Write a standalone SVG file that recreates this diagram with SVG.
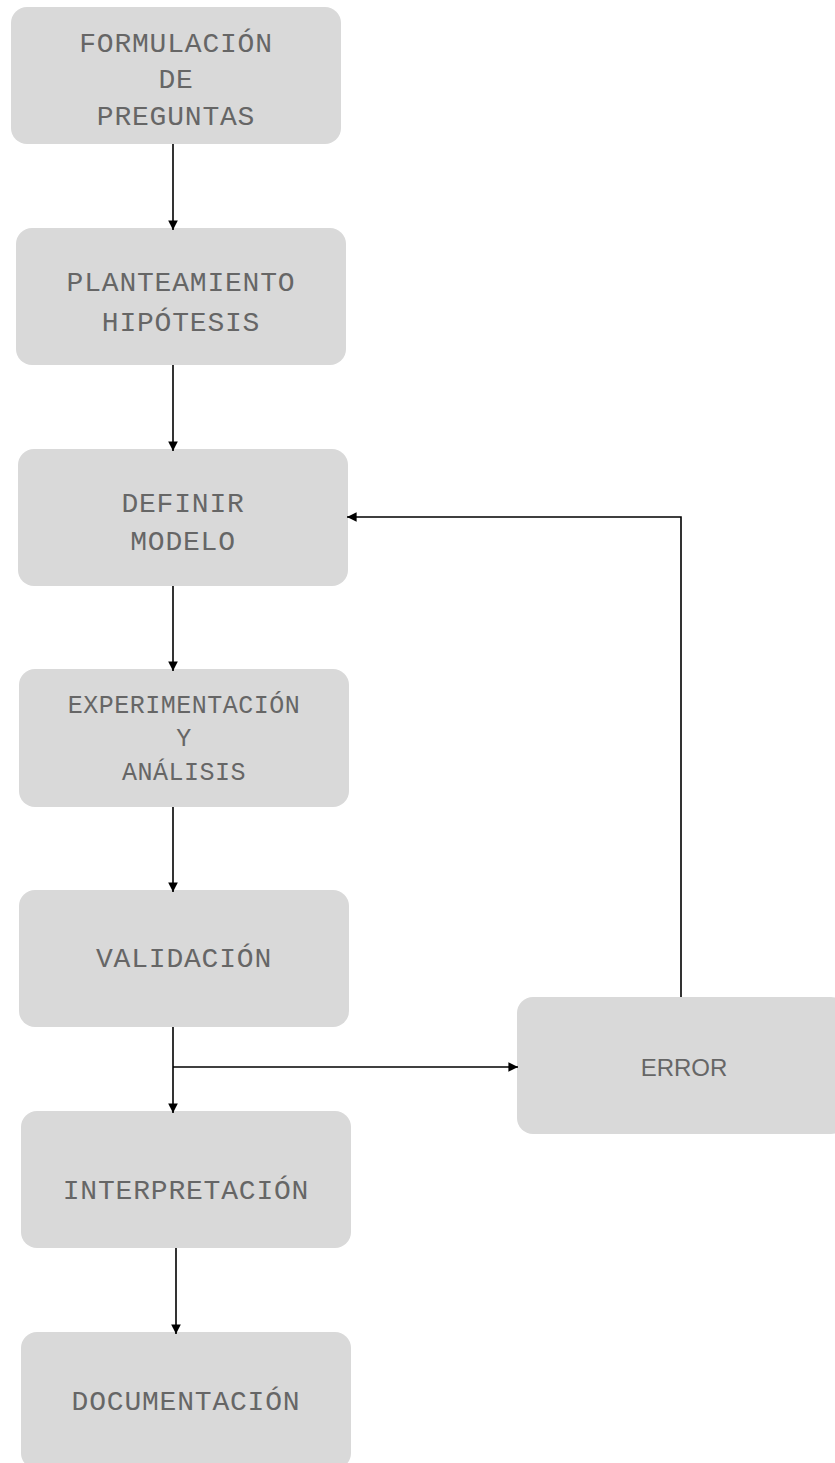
<svg xmlns="http://www.w3.org/2000/svg" width="835" height="1463" viewBox="0 0 835 1463">
  <style>
    .box { fill: #d9d9d9; }
    .lbl { font-family: "Liberation Mono", "DejaVu Sans Mono", monospace; font-size: 28px; letter-spacing: 0.8px; fill: #666666; text-anchor: middle; }
    .sm { font-size: 25px; letter-spacing: 0.5px; }
    .sans { font-family: "Liberation Sans", Arial, sans-serif; font-size: 24px; fill: #666666; text-anchor: middle; }
    .wire { fill: none; stroke: #000; stroke-width: 1.6; }
  </style>
  <defs>
    <marker id="arrow" viewBox="0 0 10 10" refX="10" refY="5" markerWidth="6" markerHeight="6" orient="auto" markerUnits="strokeWidth">
      <path d="M0,0 L10,5 L0,10 Z" fill="#000"/>
    </marker>
  </defs>

  <rect width="835" height="1463" fill="#fff"/>

  <g id="node-formulacion">
    <rect class="box" x="11" y="7" width="330" height="137" rx="16"/>
    <text class="lbl" x="176" y="52">FORMULACIÓN</text>
    <text class="lbl" x="176" y="88">DE</text>
    <text class="lbl" x="176" y="125">PREGUNTAS</text>
  </g>

  <g id="node-planteamiento">
    <rect class="box" x="16" y="228" width="330" height="137" rx="16"/>
    <text class="lbl" x="181" y="291">PLANTEAMIENTO</text>
    <text class="lbl" x="181" y="331">HIPÓTESIS</text>
  </g>

  <g id="node-definir">
    <rect class="box" x="18" y="449" width="330" height="137" rx="16"/>
    <text class="lbl" x="183" y="512">DEFINIR</text>
    <text class="lbl" x="183" y="550">MODELO</text>
  </g>

  <g id="node-experimentacion">
    <rect class="box" x="19" y="669" width="330" height="138" rx="16"/>
    <text class="lbl sm" x="184" y="713">EXPERIMENTACIÓN</text>
    <text class="lbl sm" x="184" y="746">Y</text>
    <text class="lbl sm" x="184" y="780">ANÁLISIS</text>
  </g>

  <g id="node-validacion">
    <rect class="box" x="19" y="890" width="330" height="137" rx="16"/>
    <text class="lbl" x="184" y="967">VALIDACIÓN</text>
  </g>

  <g id="node-interpretacion">
    <rect class="box" x="21" y="1111" width="330" height="137" rx="16"/>
    <text class="lbl" x="186" y="1199">INTERPRETACIÓN</text>
  </g>

  <g id="node-documentacion">
    <rect class="box" x="21" y="1332" width="330" height="137" rx="16"/>
    <text class="lbl" x="186" y="1410">DOCUMENTACIÓN</text>
  </g>

  <g id="node-error">
    <rect class="box" x="517" y="997" width="330" height="137" rx="16"/>
    <text class="sans" x="684" y="1076">ERROR</text>
  </g>

  <g id="connectors">
    <path class="wire" d="M173,144 V230" marker-end="url(#arrow)"/>
    <path class="wire" d="M173,365 V451" marker-end="url(#arrow)"/>
    <path class="wire" d="M173,586 V671" marker-end="url(#arrow)"/>
    <path class="wire" d="M173,807 V892" marker-end="url(#arrow)"/>
    <path class="wire" d="M173,1027 V1113" marker-end="url(#arrow)"/>
    <path class="wire" d="M173,1067 H518" marker-end="url(#arrow)"/>
    <path class="wire" d="M681,997 V517 H347" marker-end="url(#arrow)"/>
    <path class="wire" d="M176,1248 V1334" marker-end="url(#arrow)"/>
  </g>
</svg>
